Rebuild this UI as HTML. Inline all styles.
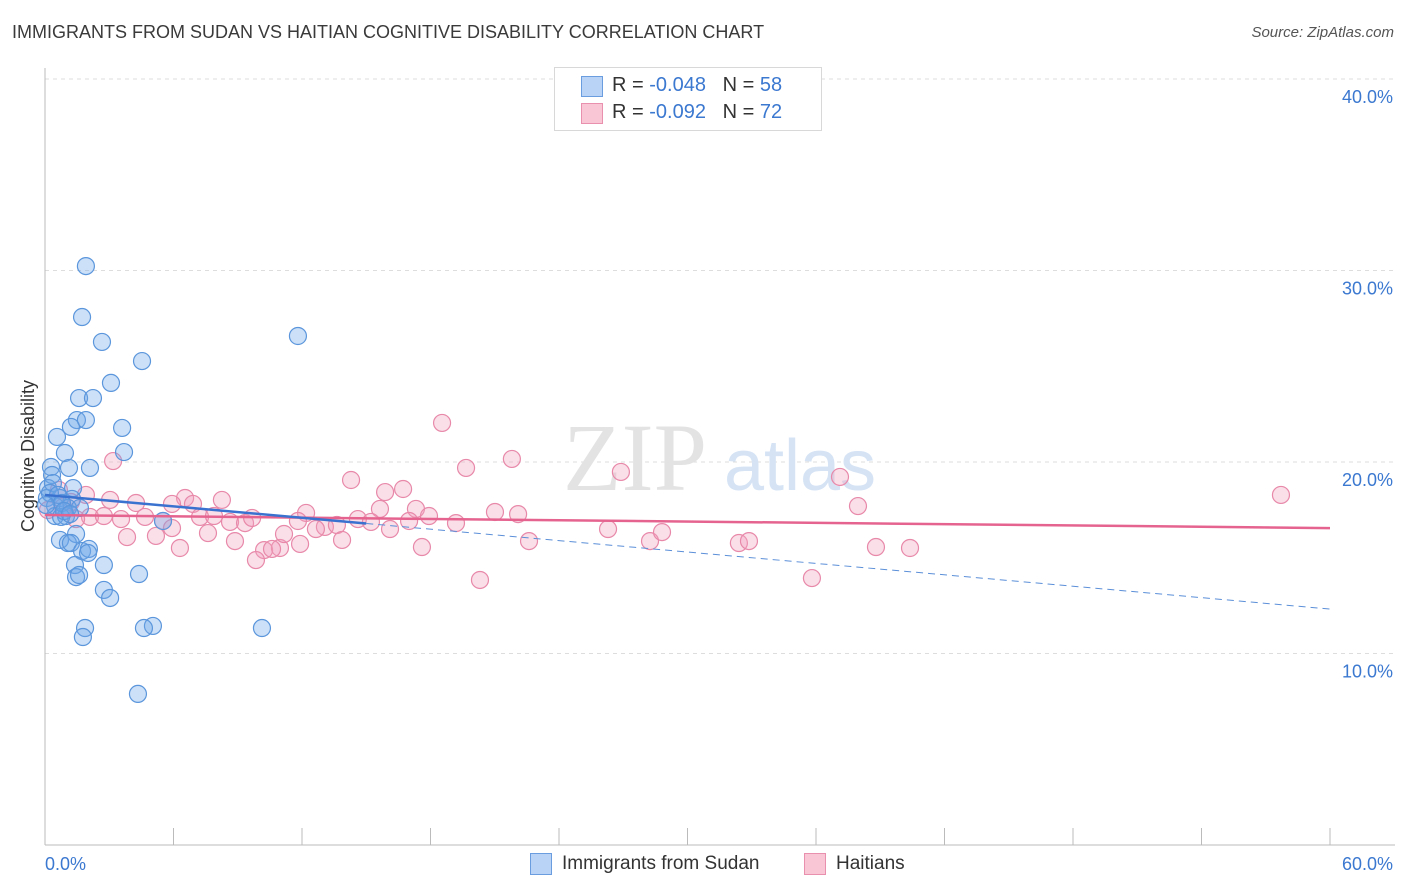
<!DOCTYPE html>
<html><head><meta charset="utf-8"><style>
body{margin:0;background:#fff;font-family:"Liberation Sans",sans-serif;}
#wrap{position:relative;width:1406px;height:892px;overflow:hidden;}
.t{position:absolute;white-space:nowrap;}
</style></head><body>
<div id="wrap">
<div class="t" style="left:12px;top:22px;font-size:18px;color:#3a3a3a;">IMMIGRANTS FROM SUDAN VS HAITIAN COGNITIVE DISABILITY CORRELATION CHART</div>
<div class="t" style="right:12px;top:24px;font-size:15px;color:#555;font-style:italic;">Source: ZipAtlas.com</div>
<svg id="svg" width="1406" height="892" style="position:absolute;left:0;top:0"></svg>
</div>
<script>
const blueX=[1.91,1.73,2.66,4.53,11.81,3.08,1.59,2.24,1.49,1.91,1.21,3.60,0.56,0.93,3.69,0.28,1.12,2.10,0.33,0.14,1.31,0.09,0.70,1.26,0.47,1.07,0.47,0.98,0.75,1.45,0.70,1.07,1.21,1.73,2.05,2.01,2.75,1.40,1.45,1.59,4.39,2.75,3.04,1.87,5.04,4.62,10.13,1.77,4.34,5.51,0.37,0.23,0.61,0.79,1.63,0.05,0.89,1.17];
const blueY=[30.23,27.57,26.27,25.27,26.58,24.13,23.34,23.34,22.19,22.19,21.83,21.78,21.31,20.47,20.52,19.74,19.69,19.69,19.32,18.64,18.64,18.12,18.12,18.07,17.70,17.60,17.18,17.18,17.13,16.24,15.93,15.77,15.77,15.35,15.46,15.25,14.62,14.62,13.99,14.10,14.15,13.32,12.90,11.33,11.44,11.33,11.33,10.86,7.89,16.92,18.90,18.38,18.28,17.86,17.60,17.75,17.44,17.28];
const pinkX=[18.54,19.66,21.80,26.89,37.12,57.71,14.29,15.88,16.72,37.96,3.18,0.65,1.91,0.84,4.25,6.54,6.91,8.26,12.19,17.32,15.64,21.01,22.09,17.93,19.19,2.10,3.55,4.67,2.75,5.51,7.24,7.89,8.64,9.34,9.67,13.07,11.81,13.63,14.61,15.22,17.00,3.83,5.18,5.93,7.61,8.87,10.23,10.97,11.16,11.91,12.65,13.87,16.11,17.60,22.60,26.29,28.25,28.81,32.40,32.87,6.30,9.85,10.60,20.31,35.81,38.80,40.39,1.21,0.14,1.45,3.04,5.93];
const pinkY=[22.04,19.69,20.16,19.48,19.22,18.28,19.06,18.43,18.59,17.70,20.05,18.54,18.28,17.65,17.86,18.12,17.81,18.02,17.34,17.55,17.55,17.39,17.28,17.18,16.81,17.13,17.02,17.13,17.18,16.92,17.13,17.18,16.87,16.81,17.08,16.61,16.92,16.71,17.02,16.87,16.92,16.08,16.14,16.55,16.29,15.87,15.40,15.51,16.24,15.72,16.50,15.93,16.50,15.56,15.87,16.50,15.87,16.34,15.77,15.87,15.51,14.88,15.46,13.84,13.94,15.56,15.51,17.91,17.49,17.02,18.02,17.81];
const yTicks=[10,20,30,40];
const xTicks=[0,6,12,18,24,30,36,42,48,54,60];
const blueTrend=[18.28,12.32]; // value at x=0 and x=60
const pinkTrend=[17.23,16.55];
const blueSolidEnd=15;

const sx=v=>45+v/60*1285;
const sy=v=>845-v*19.15;
const svg=document.getElementById('svg');
const NS='http://www.w3.org/2000/svg';
function mk(tag,attrs){const e=document.createElementNS(NS,tag);for(const k in attrs)e.setAttribute(k,attrs[k]);svg.appendChild(e);return e;}

// gridlines
yTicks.forEach(t=>{
  const g=mk('line',{x1:45,x2:1395,y1:sy(t),y2:sy(t),stroke:'#ddd','stroke-dasharray':'4,4'});
  
  
  const l=mk('text',{x:1393,y:sy(t)+24,'text-anchor':'end','font-size':18,fill:'#3b78d0','font-family':'Liberation Sans'});
  l.textContent=t.toFixed(1)+'%';
  
  
});
// axes
const ya=mk('line',{x1:45,x2:45,y1:68,y2:845,stroke:'#bbb'});


const xa=mk('line',{x1:45,x2:1395,y1:845,y2:845,stroke:'#bbb'});


xTicks.forEach(t=>{
  const k=mk('line',{x1:sx(t),x2:sx(t),y1:828,y2:845,stroke:'#bbb'});
  
  
});
[[0,'start',45],[60,'end',1393]].forEach(([v,a,x])=>{
  const l=mk('text',{x:x,y:870,'text-anchor':a,'font-size':18,fill:'#3b78d0','font-family':'Liberation Sans'});
  l.textContent=v.toFixed(1)+'%';
  
  
});
const yt=mk('text',{x:34,y:456,'text-anchor':'middle','font-size':18,fill:'#333',transform:'rotate(-90 34 456)','font-family':'Liberation Sans'});
yt.textContent='Cognitive Disability';


// watermark
const w1=mk('text',{x:635,y:490,'text-anchor':'middle','font-size':96,fill:'#e3e3e3','font-family':'Liberation Serif'});
w1.textContent='ZIP';


const w2=mk('text',{x:800,y:490,'text-anchor':'middle','font-size':72,fill:'#d5e3f5','font-family':'Liberation Sans'});
w2.textContent='atlas';


// points
function pts(xs,ys,fill,stroke,name){
  xs.forEach((x,i)=>{
    const c=mk('circle',{cx:sx(x),cy:sy(ys[i]),r:8.5,fill:fill,stroke:stroke,'stroke-width':1.2});
    
    
  });
}
pts(pinkX,pinkY,'rgba(242,160,188,0.35)','#e889aa','haitians-point');
pts(blueX,blueY,'rgba(110,165,232,0.35)','#5b96dc','sudan-point');
// trend lines
const bAt=x=>blueTrend[0]+(blueTrend[1]-blueTrend[0])*x/60;
const pAt=x=>pinkTrend[0]+(pinkTrend[1]-pinkTrend[0])*x/60;
const pl=mk('line',{x1:sx(0),y1:sy(pAt(0)),x2:sx(60),y2:sy(pAt(60)),stroke:'#e5648f','stroke-width':2.5});


const bl=mk('line',{x1:sx(0),y1:sy(bAt(0)),x2:sx(blueSolidEnd),y2:sy(bAt(blueSolidEnd)),stroke:'#3a72d0','stroke-width':2.5});


const bd=mk('line',{x1:sx(blueSolidEnd),y1:sy(bAt(blueSolidEnd)),x2:sx(60),y2:sy(bAt(60)),stroke:'#5b8fd8','stroke-width':1,'stroke-dasharray':'7,5'});


</script>
<div class="t" style="left:554px;top:67px;width:266px;height:62px;border:1px solid #d8d8d8;background:#fff;">
  <div class="t" style="left:26px;top:8px;width:20px;height:19px;background:#b9d3f6;border:1px solid #6a9de0;"></div>
  <div class="t" style="left:57px;top:6px;font-size:20px;color:#333;">R = <span style="color:#3b78d0">-0.048</span>&nbsp;&nbsp;&nbsp;N = <span style="color:#3b78d0">58</span></div>
  <div class="t" style="left:26px;top:35px;width:20px;height:19px;background:#f9c6d6;border:1px solid #e890ad;"></div>
  <div class="t" style="left:57px;top:33px;font-size:20px;color:#333;">R = <span style="color:#3b78d0">-0.092</span>&nbsp;&nbsp;&nbsp;N = <span style="color:#3b78d0">72</span></div>
</div>
<div class="t" style="left:530px;top:853px;width:20px;height:20px;background:#b9d3f6;border:1px solid #6a9de0;"></div>
<div class="t" style="left:562px;top:853px;font-size:19px;color:#333;">Immigrants from Sudan</div>
<div class="t" style="left:804px;top:853px;width:20px;height:20px;background:#f9c6d6;border:1px solid #e890ad;"></div>
<div class="t" style="left:836px;top:853px;font-size:19px;color:#333;">Haitians</div>
</body></html>
